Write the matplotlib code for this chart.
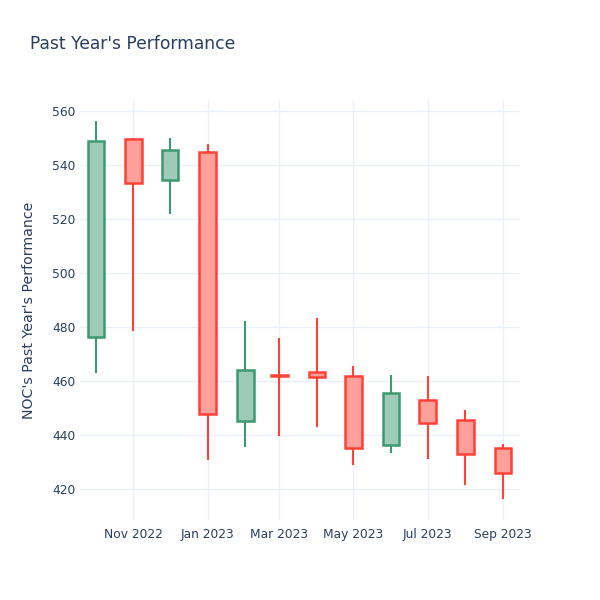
import matplotlib
matplotlib.use("Agg")
import matplotlib.pyplot as plt
import matplotlib.dates as mdates
import numpy as np
import datetime as dt

months = ["2022-10-01", "2022-11-01", "2022-12-01", "2023-01-01", "2023-02-01", "2023-03-01",
          "2023-04-01", "2023-05-01", "2023-06-01", "2023-07-01", "2023-08-01", "2023-09-01"]
opens = [476.2, 549.7, 534.4, 544.9, 445.1, 462.1, 463.3, 461.7, 436.4, 453.0, 445.7, 435.0]
highs = [556.3, 550.2, 549.9, 547.8, 482.2, 475.8, 483.2, 465.7, 462.2, 461.7, 449.4, 436.5]
lows = [463.0, 478.5, 521.7, 430.7, 435.7, 439.6, 442.9, 428.9, 433.3, 431.0, 421.5, 416.4]
closes = [548.9, 533.5, 545.6, 447.8, 463.9, 461.7, 461.3, 435.0, 455.6, 444.6, 432.8, 426.0]

tick_dates = ["2022-11-01", "2023-01-01", "2023-03-01", "2023-05-01", "2023-07-01", "2023-09-01"]
tick_labels = ["Nov 2022", "Jan 2023", "Mar 2023", "May 2023", "Jul 2023", "Sep 2023"]
y_ticks = [420, 440, 460, 480, 500, 520, 540, 560]

TXT = "#2a3f5f"
GRID = "#ebf0f8"
INC = "#3D9970"
DEC = "#FF4136"

fig = plt.figure(figsize=(6, 6), dpi=100)
ax = fig.add_axes([80/600, 80/600, 440/600, 420/600])

x = mdates.date2num([dt.date.fromisoformat(m) for m in months])
o = np.array(opens); c = np.array(closes); h = np.array(highs); l = np.array(lows)

for xi, oi, hi, li, ci in zip(x, o, h, l, c):
    col = INC if ci >= oi else DEC
    ax.vlines(xi, li, hi, color=col, linewidth=1.5, zorder=2)
    bot = min(oi, ci)
    ht = max(abs(ci - oi), 0.3)
    ax.bar(xi, ht, bottom=bot, width=13.5, facecolor=matplotlib.colors.to_rgba(col, 0.5),
           edgecolor=col, linewidth=1.8, zorder=3)
    # white-ish background behind box so wick is hidden
    ax.bar(xi, ht, bottom=bot, width=13.5, facecolor="white", edgecolor="none", zorder=2.5)

ax.set_xlim(mdates.date2num(dt.date(2022, 9, 18)), mdates.date2num(dt.date(2023, 9, 15)))
ax.set_ylim(408.5, 564.1)

tx = mdates.date2num([dt.date.fromisoformat(d) for d in tick_dates])
ax.set_xticks(tx)
ax.set_xticklabels(tick_labels)
ax.set_yticks(y_ticks)
ax.set_yticklabels([str(v) for v in y_ticks])
ax.tick_params(axis="both", length=0, labelsize=8.8, labelcolor=TXT)
ax.tick_params(axis="x", pad=6)
ax.tick_params(axis="y", pad=3)

ax.grid(True, color=GRID, linewidth=1, zorder=0)
ax.set_axisbelow(True)
for s in ax.spines.values():
    s.set_visible(False)

ax.set_ylabel("NOC's Past Year's Performance", fontsize=10.2, color=TXT, labelpad=12)
fig.text(30/600, 1 - 44/600, "Past Year's Performance", fontsize=12.3, color=TXT,
         ha="left", va="center")

fig.savefig("out.png", dpi=100, facecolor="white")
